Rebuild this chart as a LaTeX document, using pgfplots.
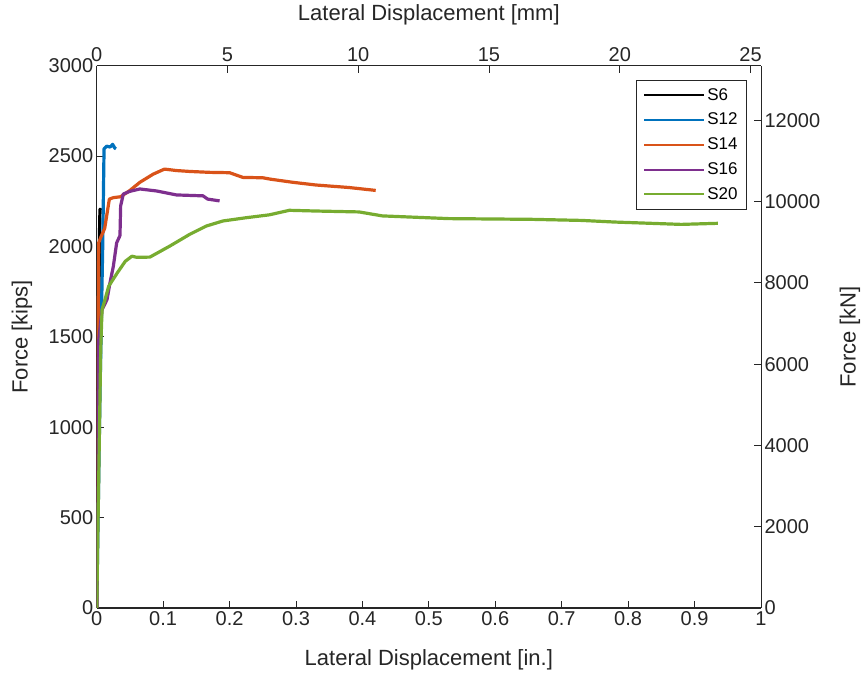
\documentclass[border=0pt]{standalone}
\usepackage{fontspec}
\setmainfont{Liberation Sans}
\usepackage{pgfplots}
\pgfplotsset{compat=1.18}
\definecolor{mblack}{RGB}{0,0,0}
\definecolor{mblue}{RGB}{0,114,189}
\definecolor{morange}{RGB}{217,83,25}
\definecolor{mpurple}{RGB}{126,47,142}
\definecolor{mgreen}{RGB}{119,172,48}
\definecolor{axgray}{RGB}{38,38,38}

\begin{document}
\begin{tikzpicture}
\pgfplotsset{
  every axis/.append style={
    scale only axis, width=664pt, height=542pt,
    tick align=inside, major tick length=7pt,
    axis line style={axgray, line width=0.9pt},
    every tick/.style={axgray, line width=0.9pt},
    ticklabel style={font=\fontsize{20}{23}\selectfont, text=axgray},
    label style={font=\fontsize{22}{26}\selectfont, text=axgray},
    /pgf/number format/assume math mode=true,
  },
}
% secondary axes: mm on top, kN on right
\begin{axis}[
  at={(0,0)}, anchor=south west,
  xmin=0, xmax=25.4, ymin=0, ymax=13344.66,
  axis x line*=top, axis y line*=right,
  xtick={0,5,10,15,20,25},
  ytick={0,2000,4000,6000,8000,10000,12000},
  scaled y ticks=false,
  yticklabel style={/pgf/number format/1000 sep={}},
  xlabel={Lateral Displacement [mm]},
  ylabel={Force [kN]},
  xlabel style={at={(axis description cs:0.5,1.0935)}, anchor=center},
  ylabel style={at={(axis description cs:1.134,0.5)}, anchor=center, rotate=0},
]
\end{axis}
% main axis
\begin{axis}[
  at={(0,0)}, anchor=south west,
  xmin=0, xmax=1, ymin=0, ymax=3000,
  axis x line*=bottom, axis y line*=left,
  xtick={0,0.1,0.2,0.3,0.4,0.5,0.6,0.7,0.8,0.9,1},
  xticklabels={0,0.1,0.2,0.3,0.4,0.5,0.6,0.7,0.8,0.9,1},
  ytick={0,500,1000,1500,2000,2500,3000},
  yticklabel style={/pgf/number format/1000 sep={}},
  x axis line style={line width=1.4pt},
  xlabel={Lateral Displacement [in.]},
  ylabel={Force [kips]},
  xlabel style={at={(axis description cs:0.5,-0.096)}, anchor=center},
  ylabel style={at={(axis description cs:-0.1125,0.5)}, anchor=center},
  legend style={at={(rel axis cs:0.979,0.974)}, anchor=north east,
    draw=axgray, line width=0.8pt, font=\fontsize{17}{20}\selectfont,
    row sep=7.5pt, inner xsep=7pt, inner ysep=6pt},
  legend cell align=left,
  legend image code/.code={\draw[#1, line width=2pt] (0pt,0pt) -- (60pt,0pt);},
  every axis plot/.append style={line width=3.2pt, line join=round},
]
\addplot[mblack] coordinates {
(0,0) (0.003,1500) (0.004,2020) (0.0045,2150) (0.005,2206) (0.007,2200)
};
\addlegendentry{S6}
\addplot[mblue] coordinates {
(0,0) (0.005,1200) (0.009,2000) (0.011,2540) (0.015,2555) (0.02,2550)
(0.024,2565) (0.027,2545) (0.029,2540)
};
\addlegendentry{S12}
\addplot[morange] coordinates {
(0,0) (0.002,1500) (0.003,2020) (0.006,2050) (0.012,2100) (0.019,2262)
(0.025,2270) (0.036,2275) (0.05,2310) (0.065,2355) (0.085,2400)
(0.102,2428) (0.12,2420) (0.14,2415) (0.17,2410) (0.2,2408) (0.22,2382)
(0.25,2380) (0.262,2372) (0.295,2355) (0.33,2340) (0.38,2326) (0.42,2310)
};
\addlegendentry{S14}
\addplot[mpurple] coordinates {
(0,0) (0.003,1480) (0.008,1650) (0.0155,1706) (0.02,1800) (0.025,1890)
(0.030,2020) (0.035,2060) (0.036,2224) (0.04,2290) (0.05,2305)
(0.065,2318) (0.09,2307) (0.12,2285) (0.16,2280) (0.167,2262) (0.185,2252)
};
\addlegendentry{S16}
\addplot[mgreen] coordinates {
(0,0) (0.006,1430) (0.008,1650) (0.012,1700) (0.018,1780) (0.031,1854)
(0.043,1918) (0.053,1946) (0.06,1940) (0.08,1941) (0.11,2002) (0.14,2067)
(0.165,2113) (0.19,2141) (0.225,2159) (0.26,2175) (0.29,2200) (0.33,2196)
(0.395,2191) (0.43,2169) (0.53,2154) (0.655,2150) (0.73,2144) (0.78,2135)
(0.88,2122) (0.935,2128)
};
\addlegendentry{S20}
\end{axis}
\pgfresetboundingbox
\path (-96.7pt,-66.3pt) rectangle (765pt,607.7pt);
\end{tikzpicture}
\end{document}
